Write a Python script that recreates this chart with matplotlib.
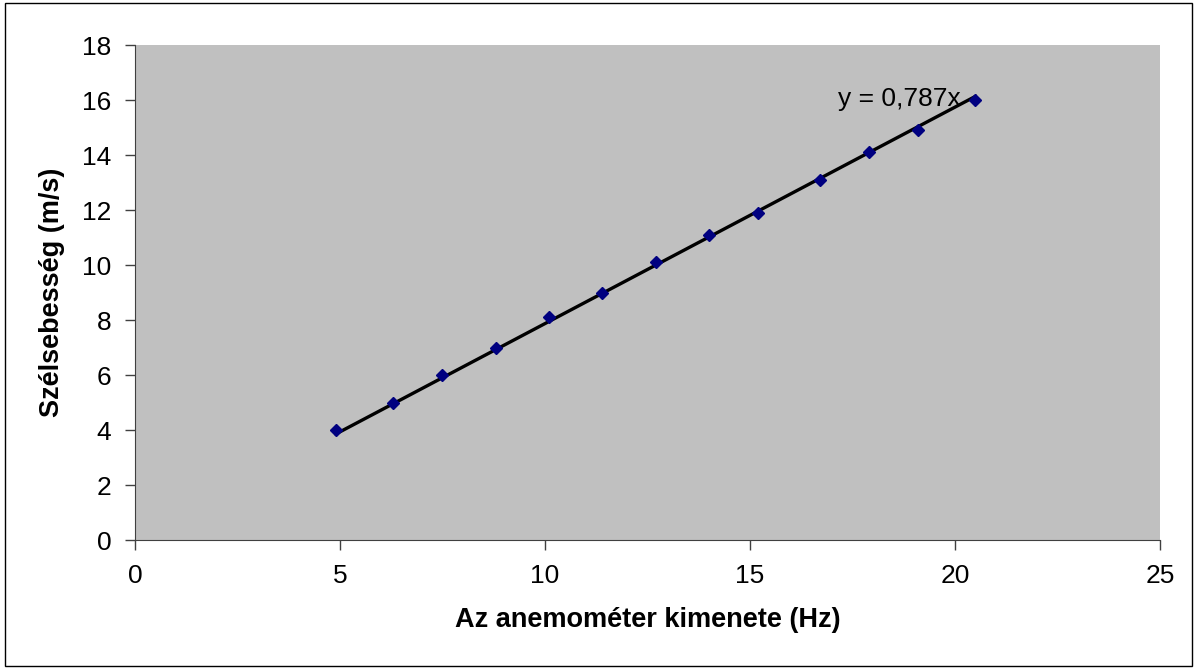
import matplotlib.pyplot as plt
import numpy as np

plt.rcParams['font.family'] = ['Liberation Sans', 'DejaVu Sans']

freq = [4.9, 6.3, 7.5, 8.8, 10.1, 11.4, 12.7, 14.0, 15.2, 16.7, 17.9, 19.1, 20.5]
speed = [4.0, 5.0, 6.0, 7.0, 8.1, 9.0, 10.1, 11.1, 11.9, 13.1, 14.1, 14.9, 16.0]
slope = 0.787

fig = plt.figure(figsize=(11.97, 6.69), dpi=100)
ax = fig.add_axes([0.1128, 0.1928, 0.8562, 0.7399])
ax.set_facecolor('#C0C0C0')

# trendline through origin, over the data range
xs = np.array([min(freq), max(freq)])
ax.plot(xs, slope * xs, color='black', lw=2.4, zorder=2)
ax.plot(freq, speed, ls='none', marker='D', ms=6.5, color='#000080', zorder=3)
ax.text(17.15, 16.05, 'y = 0,787x', fontsize=19, ha='left', va='center')

ax.set_xlim(0, 25)
ax.set_ylim(0, 18)
ax.set_xticks(range(0, 26, 5))
ax.set_yticks(range(0, 19, 2))
ax.tick_params(labelsize=19, direction='out', length=7, width=1, color='#404040', pad=10)
for s in ['top', 'right']:
    ax.spines[s].set_visible(False)
for s in ['left', 'bottom']:
    ax.spines[s].set_color('#404040')

ax.set_xlabel('Az anemométer kimenete (Hz)', fontsize=19.5, fontweight='bold', labelpad=14)
ax.set_ylabel('Szélsebesség (m/s)', fontsize=19.5, fontweight='bold', labelpad=12)

fig.patches.append(plt.Rectangle((0.004, 0.004), 0.992, 0.992, transform=fig.transFigure,
                                 fill=False, edgecolor='black', lw=1))
fig.savefig('out.png', dpi=100)
